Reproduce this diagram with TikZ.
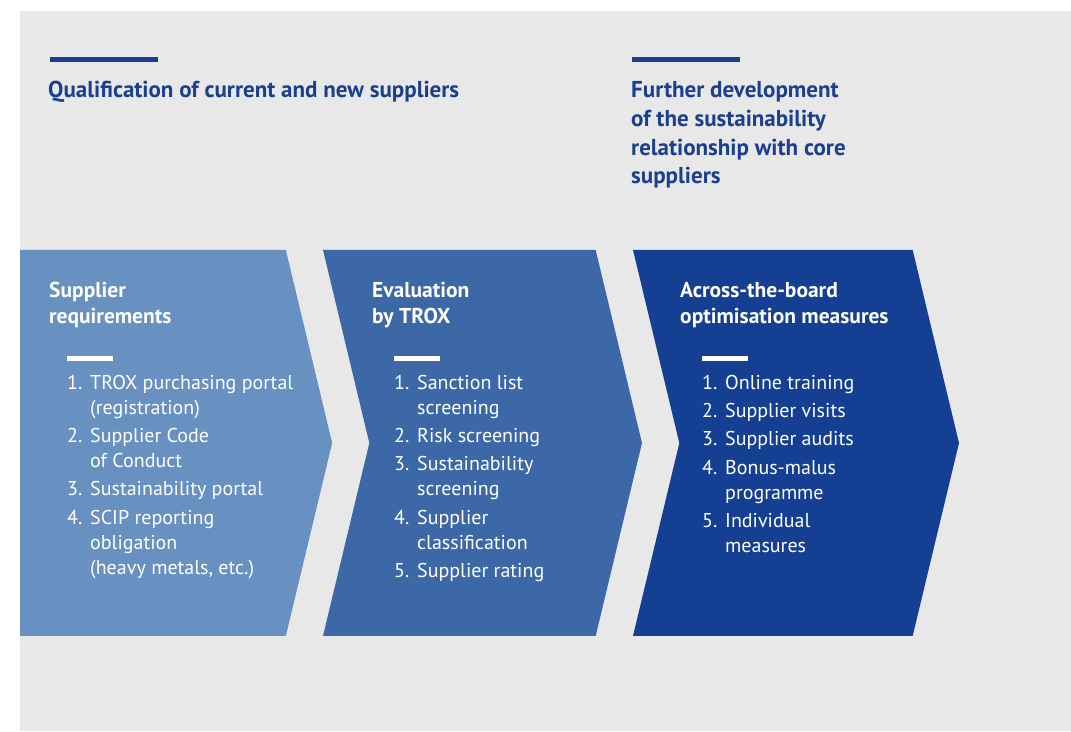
\documentclass[tikz,border=0pt]{standalone}
\usepackage{fontspec}
\setmainfont{PT Sans}
\usetikzlibrary{shapes.symbols,positioning}
\definecolor{troxgrey}{HTML}{E8E8E8}
\definecolor{troxdark}{HTML}{153F92}
\definecolor{troxmid}{HTML}{3D68A7}
\definecolor{troxlight}{HTML}{6890C1}
\definecolor{troxtitle}{HTML}{1A3F8E}

\begin{document}
\begin{tikzpicture}[x=1pt,y=1pt,chevron/.style={signal, signal to=east, signal from=west, signal pointer angle=153, minimum height=386pt, inner sep=0pt, draw=none},firstchevron/.style={chevron, signal from=nowhere},topbar/.style={rectangle, fill=troxdark, minimum width=108pt, minimum height=5pt, inner sep=0pt},whitebar/.style={rectangle, fill=white, minimum width=46pt, minimum height=5pt, inner sep=0pt},title/.style={anchor=base west, inner sep=0pt, text=troxtitle, font=\bfseries\fontsize{23}{28.7}\selectfont},heading/.style={anchor=base west, inner sep=0pt, text=white, font=\bfseries\fontsize{21.5}{26}\selectfont},steps/.style={anchor=base west, inner sep=0pt, text=white, font=\fontsize{20}{25}\selectfont}]
                \useasboundingbox (0,0) rectangle (1071,731);
                \fill[troxgrey] (20,0) rectangle (1071,720);
                % top part
                \node[topbar] (bar_qual) at (104,671.5) {};
                \node[topbar] (bar_further) at (686,671.5) {};
                \node[title] (qual) at (48,633.3) {Qualification of current and new suppliers};
                \node[title] (further) at (631,633.3) {\begin{tabular}[t]{@{}l@{}}Further development\\ of the sustainability\\ relationship with core\\ suppliers\end{tabular}};
                % chevrons
                \node[firstchevron, fill=troxlight, minimum width=312pt] (req) at (153,288) {};
                \node[chevron, fill=troxmid, minimum width=319pt] (eval) at (482.5,288) {};
                \node[chevron, fill=troxdark, minimum width=326pt] (opt) at (796,288) {};
                \node[heading] (req_head) at (49,433.3) {\begin{tabular}[t]{@{}l@{}}Supplier\\ requirements\end{tabular}};
                \node[heading] (eval_head) at (372,433.3) {\begin{tabular}[t]{@{}l@{}}Evaluation\\ by TROX\end{tabular}};
                \node[heading] (opt_head) at (680,433.3) {\begin{tabular}[t]{@{}l@{}}Across-the-board\\ optimisation measures\end{tabular}};
                \node[whitebar] (req_bar) at (90,372.5) {};
                \node[whitebar] (eval_bar) at (417,372.5) {};
                \node[whitebar] (opt_bar) at (725,372.5) {};
                \node[steps] (req_list) at (67,341.7) {\begin{tabular}[t]{@{}p{23pt}@{}l@{}}1. & TROX purchasing portal\\ & (registration)\\[3.3pt] 2. & Supplier Code\\ & of Conduct\\[3.3pt] 3. & Sustainability portal\\[3.3pt] 4. & SCIP reporting\\ & obligation\\ & (heavy metals, etc.)\end{tabular}};
                \node[steps] (eval_list) at (394,341.7) {\begin{tabular}[t]{@{}p{23pt}@{}l@{}}1. & Sanction list\\ & screening\\[3.3pt] 2. & Risk screening\\[3.3pt] 3. & Sustainability\\ & screening\\[3.3pt] 4. & Supplier\\ & classification\\[3.3pt] 5. & Supplier rating\end{tabular}};
                \node[steps] (opt_list) at (702,341.7) {\begin{tabular}[t]{@{}p{23pt}@{}l@{}}1. & Online training\\[3.3pt] 2. & Supplier visits\\[3.3pt] 3. & Supplier audits\\[3.3pt] 4. & Bonus-malus\\ & programme\\[3.3pt] 5. & Individual\\ & measures\end{tabular}};
            \end{tikzpicture}
\end{document}
